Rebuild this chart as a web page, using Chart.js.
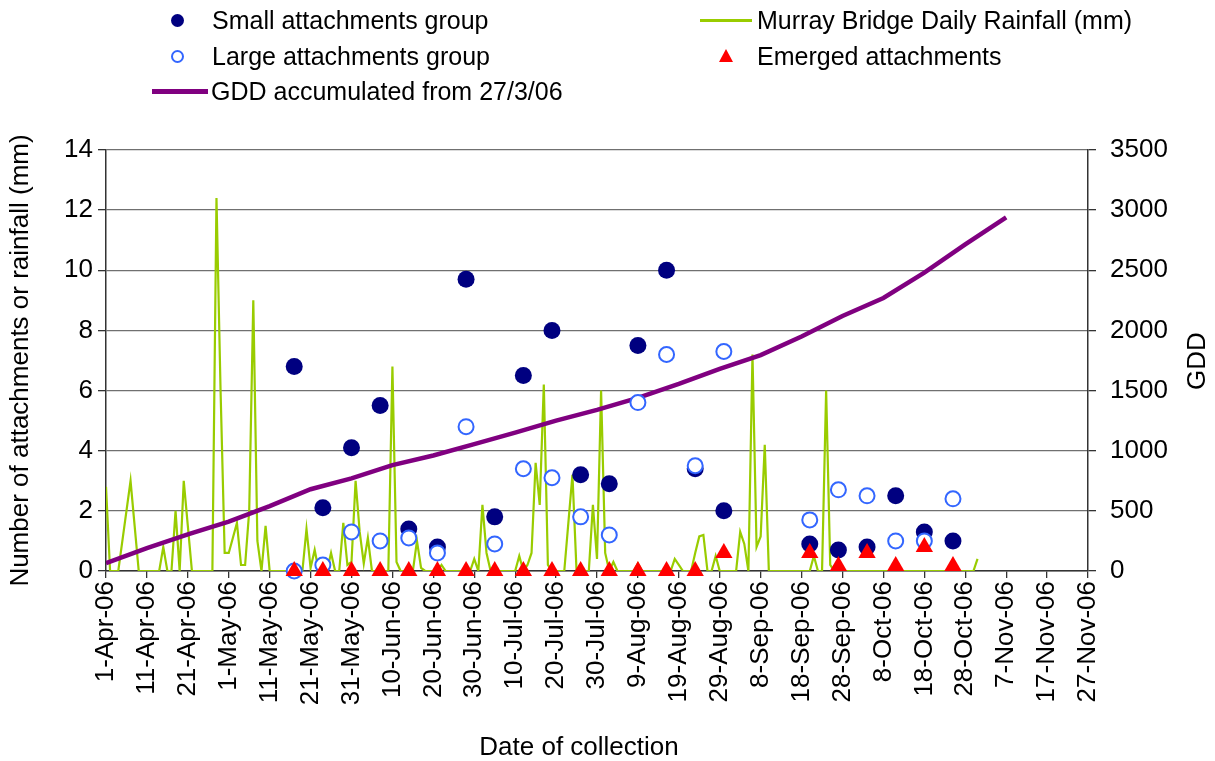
<!DOCTYPE html>
<html>
<head>
<meta charset="utf-8">
<script src="https://cdn.jsdelivr.net/npm/chart.js@4.4.0/dist/chart.umd.min.js"></script>
<style>
body { margin: 0; background: #fff; }
#wrap { position: relative; width: 1215px; height: 761px; font-family: 'Liberation Sans', Arial, sans-serif; }
#graphik { position: absolute; left: 0; top: 0; }
.item { position: absolute; font-size: 25px; line-height: 30px; height: 30px; white-space: nowrap; color: #000; }
.mk { position: absolute; }
</style>
</head>
<body>
<div id="wrap">
<canvas id="graphik" width="1215" height="761"></canvas>
<div id="legend"></div>
</div>
<script>
// days counted from 1-Apr-06
const months = ['Jan','Feb','Mar','Apr','May','Jun','Jul','Aug','Sep','Oct','Nov','Dec'];

// collection dates
const collectionDates = ['17-May-06','24-May-06','31-May-06','7-Jun-06','14-Jun-06','21-Jun-06','28-Jun-06',
    '5-Jul-06','12-Jul-06','19-Jul-06','26-Jul-06','2-Aug-06','9-Aug-06','16-Aug-06','23-Aug-06','30-Aug-06',
    '20-Sep-06','27-Sep-06','4-Oct-06','11-Oct-06','18-Oct-06','25-Oct-06'];
const smallGroup = [6.8, 2.1, 4.1, 5.5, 1.4, 0.8, 9.7, 1.8, 6.5, 8.0, 3.2, 2.9, 7.5, 10, 3.4, 2.0,
    0.9, 0.7, 0.8, 2.5, 1.3, 1.0];
const largeGroup = [0, 0.2, 1.3, 1.0, 1.1, 0.6, 4.8, 0.9, 3.4, 3.1, 1.8, 1.2, 5.6, 7.2, 3.5, 7.3,
    1.7, 2.7, 2.5, 1.0, 1.0, 2.4];
const emerged = [0, 0, 0, 0, 0, 0, 0, 0, 0, 0, 0, 0, 0, 0, 0, 0.6,
    0.6, 0.17, 0.6, 0.17, 0.8, 0.17];

// daily rainfall (mm) from 1-Apr-06
const rainfall = [
    2.8, 0, 0, 0, 1.0, 2.0, 3.0, 1.5, 0, 0,
    0, 0, 0, 0, 0.8, 0, 0, 2.0, 0, 3.0,
    1.5, 0, 0, 0, 0, 0, 0, 12.4, 6.0, 0.6,
    0.6, 1.1, 1.6, 0.2, 0.2, 2.0, 9.0, 1.0, 0, 1.5,
    0, 0, 0, 0, 0, 0, 0, 0, 0, 1.4,
    0.1, 0.7, 0, 0, 0, 0.6, 0, 0, 1.6, 0.2,
    0.3, 3.0, 1.3, 0.25, 1.1, 0, 0, 0, 0, 0,
    6.8, 0.3, 0, 0, 0, 0, 1.0, 0.1, 0, 0,
    0, 0, 0.2, 0, 0, 0, 0, 0, 0, 0,
    0.4, 0, 2.2, 0.6, 0, 0, 0, 0, 0, 0,
    0, 0.5, 0, 0.2, 0.6, 3.6, 2.2, 6.2, 0.2, 0,
    0, 0, 0, 1.6, 3.2, 0, 0, 0, 0, 2.2,
    0.4, 6.0, 0.6, 0, 0.3, 0, 0, 0, 0, 0,
    0.25, 0, 0, 0, 0, 0, 0, 0, 0, 0.4,
    0.2, 0, 0, 0, 0.6, 1.15, 1.2, 0, 0, 0.5,
    0, 0, 0, 0, 0, 1.3, 0.9, 0, 7.2, 0.8,
    1.15, 4.2, 0, 0, 0, 0, 0, 0, 0, 0,
    0, 0, 0, 0.5, 0, 0, 6.0, 0.2, 0, 0,
    0, 0, 0, 0, 0, 0, 0, 0, 0, 0,
    0, 0, 0, 0, 0, 0, 0, 0, 0, 0,
    0, 0, 0, 0, 0, 0, 0, 0, 0, 0,
    0, 0, 0, 0.4
];

// GDD accumulated from 27/3/06, every 10 days from 1-Apr-06
const gddDays = [0, 10, 20, 30, 40, 50, 60, 70, 80, 90, 100, 110, 120, 130, 140, 150, 160, 170, 180, 190, 200, 210, 220];
const gdd = [65, 190, 305, 410, 540, 680, 770, 880, 960, 1055, 1150, 1250, 1340, 1440, 1555, 1680, 1795, 1950, 2120, 2270, 2480, 2715, 2940];

function dayOf(s) {
    const p = s.split('-');
    const t = Date.UTC(2000 + parseInt(p[2]), months.indexOf(p[1]), parseInt(p[0]));
    return Math.round((t - Date.UTC(2006, 3, 1)) / 86400000);
}
function dayLabel(v) {
    const d = new Date(Date.UTC(2006, 3, 1 + v));
    return d.getUTCDate() + '-' + months[d.getUTCMonth()] + '-06';
}

const colDays = collectionDates.map(dayOf);
const pts = (xs, ys) => xs.map((x, i) => ({x: x, y: ys[i]}));

const FONT = "'Liberation Sans', Arial, sans-serif";
Chart.defaults.font.family = FONT;
Chart.defaults.font.size = 26;
Chart.defaults.color = '#000';

const extraTitles = {
    id: 'extraTitles',
    afterDraw(chart) {
        const c = chart.ctx;
        c.save();
        c.fillStyle = '#000';
        c.font = '26px ' + FONT;
        c.textAlign = 'center';
        c.textBaseline = 'alphabetic';
        c.fillText('Date of collection', 579, 755);
        c.translate(1205, 361);
        c.rotate(-Math.PI / 2);
        c.fillText('GDD', 0, 0);
        c.restore();
    }
};

var ctx = document.getElementById('graphik');
var graphik = new Chart(ctx, {
    type: 'line',
    data: {
        datasets: [{
            label: 'Emerged attachments',
            data: pts(colDays, emerged),
            showLine: false,
            pointStyle: 'triangle',
            pointRadius: 10,
            pointBackgroundColor: '#FF0000',
            pointBorderColor: '#FF0000',
            pointBorderWidth: 0,
            clip: false,
            yAxisID: 'y',
            order: 1
        }, {
            label: 'Large attachments group',
            data: pts(colDays, largeGroup),
            showLine: false,
            pointStyle: 'circle',
            pointRadius: 7.5,
            pointBackgroundColor: '#FFFFFF',
            pointBorderColor: '#3366FF',
            pointBorderWidth: 2,
            clip: false,
            yAxisID: 'y',
            order: 2
        }, {
            label: 'Small attachments group',
            data: pts(colDays, smallGroup),
            showLine: false,
            pointStyle: 'circle',
            pointRadius: 8.5,
            pointBackgroundColor: '#000080',
            pointBorderColor: '#000080',
            pointBorderWidth: 0,
            clip: false,
            yAxisID: 'y',
            order: 3
        }, {
            label: 'GDD accumulated from 27/3/06',
            data: pts(gddDays, gdd),
            borderColor: '#800080',
            borderWidth: 4.5,
            pointRadius: 0,
            tension: 0,
            yAxisID: 'y2',
            order: 4
        }, {
            label: 'Murray Bridge Daily Rainfall (mm)',
            data: rainfall.map((v, i) => ({x: i, y: v})),
            borderColor: '#99CC00',
            borderWidth: 2.2,
            pointRadius: 0,
            tension: 0,
            yAxisID: 'y',
            order: 5
        }]
    },
    options: {
        responsive: false,
        animation: false,
        devicePixelRatio: 1,
        layout: {padding: {top: 150, left: 0, right: 0, bottom: 0}},
        plugins: {legend: {display: false}, tooltip: {enabled: false}},
        scales: {
            x: {
                type: 'linear',
                position: 'bottom',
                min: 0, max: 240,
                afterFit: s => { s.height = 190; },
                ticks: {stepSize: 10, autoSkip: false, minRotation: 90, maxRotation: 90, padding: 3,
                    callback: v => dayLabel(v)},
                grid: {drawOnChartArea: false, tickLength: 7, tickColor: '#333', lineWidth: 1.3},
                border: {color: '#333', width: 1.5}
            },
            y: {
                position: 'left',
                min: 0, max: 14,
                afterFit: s => { s.width = 106; },
                ticks: {stepSize: 2, padding: 5, callback: v => String(v)},
                grid: {color: '#707070', lineWidth: 1.3, tickLength: 8, tickColor: '#333'},
                border: {color: '#333', width: 1.5},
                title: {display: true, text: 'Number of attachments or rainfall (mm)', padding: {top: 5, bottom: 0},
                    font: {size: 26}}
            },
            y2: {
                position: 'right',
                min: 0, max: 3500,
                afterFit: s => { s.width = 127; },
                ticks: {stepSize: 500, padding: 14, callback: v => String(v)},
                grid: {drawOnChartArea: false, tickLength: 8, tickColor: '#333', lineWidth: 1.3},
                border: {color: '#333', width: 1.5}
            }
        }
    },
    plugins: [extraTitles]
});

// legend, two columns like the original
const legend = document.getElementById('legend');
const ds = graphik.data.datasets;
function addText(label, tx, cy) {
    const el = document.createElement('div');
    el.className = 'item';
    el.style.left = tx + 'px';
    el.style.top = (cy - 15) + 'px';
    el.textContent = label;
    legend.appendChild(el);
}
function addMarker(html) { legend.insertAdjacentHTML('beforeend', html); }

addMarker('<div class="mk" style="left:171px;top:14px;width:13px;height:13px;border-radius:50%;background:' + ds[2].pointBackgroundColor + '"></div>');
addText(ds[2].label, 212, 20);
addMarker('<div class="mk" style="left:171px;top:50px;width:9px;height:9px;border-radius:50%;border:2px solid ' + ds[1].pointBorderColor + ';background:#fff"></div>');
addText(ds[1].label, 212, 56);
addMarker('<div class="mk" style="left:152px;top:89px;width:56px;height:4.5px;background:' + ds[3].borderColor + '"></div>');
addText(ds[3].label, 211, 91);
addMarker('<div class="mk" style="left:700px;top:19px;width:52px;height:2.5px;background:' + ds[4].borderColor + '"></div>');
addText(ds[4].label, 757, 20);
addMarker('<svg class="mk" style="left:719px;top:49px" width="14" height="13"><polygon points="7,0 14,13 0,13" fill="' + ds[0].pointBackgroundColor + '"/></svg>');
addText(ds[0].label, 757, 56);
</script>
</body>
</html>
